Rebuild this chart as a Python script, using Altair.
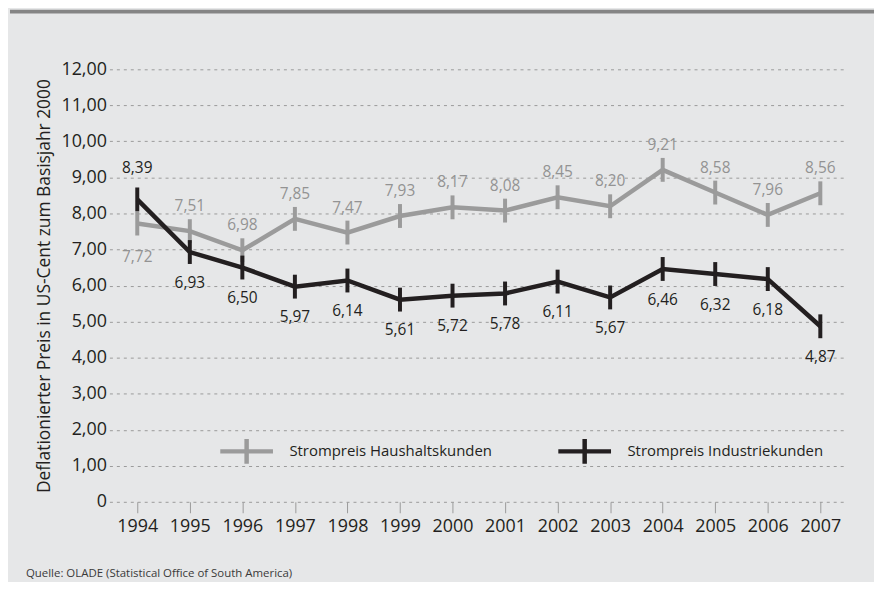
import altair as alt
import pandas as pd

jahre = list(range(1994, 2008))
haushalt = [7.72, 7.51, 6.98, 7.85, 7.47, 7.93, 8.17, 8.08, 8.45, 8.20, 9.21, 8.58, 7.96, 8.56]
industrie = [8.39, 6.93, 6.50, 5.97, 6.14, 5.61, 5.72, 5.78, 6.11, 5.67, 6.46, 6.32, 6.18, 4.87]
haushalt_lage = ["unten"] + ["oben"] * 13
industrie_lage = ["oben"] + ["unten"] * 13
reihen = ["Strompreis Haushaltskunden", "Strompreis Industriekunden"]
farben = ["#9b9b9b", "#231f20"]
label_farben = ["#939393", "#231f20"]
y_ticks = list(range(0, 13))
y_titel = "Deflationierter Preis in US-Cent zum Basisjahr 2000"
quelle = "Quelle: OLADE (Statistical Office of South America)"

FONT = "Open Sans"

rows = []
for j, v, l in zip(jahre, haushalt, haushalt_lage):
    rows.append({"Jahr": j, "Wert": v, "Reihe": reihen[0], "Lage": l})
for j, v, l in zip(jahre, industrie, industrie_lage):
    rows.append({"Jahr": j, "Wert": v, "Reihe": reihen[1], "Lage": l})
df = pd.DataFrame(rows)

x_enc = alt.X(
    "Jahr:Q",
    scale=alt.Scale(domain=[1993.47, 2007.454], nice=False, zero=False),
    axis=alt.Axis(
        values=jahre, format="d", title=None, grid=False, domain=False,
        tickSize=11, tickColor="#9a9a9a", tickWidth=1,
        labelFont=FONT, labelFontSize=18, labelColor="#231f20", labelPadding=5,
    ),
)
y_enc = alt.Y(
    "Wert:Q",
    scale=alt.Scale(domain=[0, 12], nice=False),
    axis=alt.Axis(
        values=y_ticks, title=y_titel, grid=True, gridDash=[3, 4], gridColor="#9a9a9a",
        gridWidth=1, ticks=False, domain=False,
        labelExpr="datum.value == 0 ? '0' : replace(format(datum.value, '.2f'), '.', ',')",
        labelFont=FONT, labelFontSize=18, labelColor="#231f20", labelPadding=3,
        titleFont=FONT, titleFontSize=17.5, titleFontWeight="normal", titleColor="#231f20",
        titlePadding=7,
    ),
)

legend = alt.Legend(
    orient="none", legendX=109, legendY=355, direction="horizontal", columns=2,
    columnPadding=57, title=None, padding=0,
    symbolType="M-1,0H1M0,-0.47V0.47", symbolSize=2809, symbolStrokeWidth=4.5,
    symbolFillColor="transparent", symbolOpacity=1,
    labelFont=FONT, labelFontSize=15, labelColor="#231f20", labelOffset=14, labelLimit=400,
)
color_enc = alt.Color("Reihe:N", scale=alt.Scale(domain=reihen, range=farben), legend=legend)

base = alt.Chart(df)
layers = []
for i, r in enumerate(reihen):
    sub = base.transform_filter(alt.datum.Reihe == r)
    layers.append(sub.mark_line(strokeWidth=4.5, opacity=1).encode(x=x_enc, y=y_enc, color=color_enc))
    layers.append(sub.mark_tick(orient="vertical", size=24, thickness=4, opacity=1).encode(x=x_enc, y=y_enc, color=color_enc))

offsets = {
    (reihen[0], "oben"): -25, (reihen[0], "unten"): 34,
    (reihen[1], "oben"): -32, (reihen[1], "unten"): 31,
}
for i, r in enumerate(reihen):
    for lage in ["oben", "unten"]:
        layers.append(
            base.transform_filter((alt.datum.Reihe == r) & (alt.datum.Lage == lage))
            .transform_calculate(Label="replace(format(datum.Wert, '.2f'), '.', ',')")
            .mark_text(font=FONT, fontSize=15.5, color=label_farben[i], dy=offsets[(r, lage)], baseline="middle")
            .encode(x=x_enc, y=y_enc, text="Label:N")
        )

one = alt.Data(values=[{"a": 1}])
topbar = alt.Chart(one).mark_rect(color="#858585").encode(
    x=alt.value(-100), x2=alt.value(769), y=alt.value(-60), y2=alt.value(-56)
)
source = alt.Chart(one).mark_text(
    font=FONT, fontSize=11.5, color="#3a3a3a", align="left", baseline="middle"
).encode(x=alt.value(-84), y=alt.value(508), text=alt.value(quelle))

chart = alt.layer(*layers, topbar, source).properties(
    width=739, height=435,
    autosize=alt.AutoSizeParams(type="none"),
    padding={"left": 102, "top": 60, "right": 30, "bottom": 79},
    background="#e6e7e8",
).configure_view(stroke=None)

chart.save("out.html", embed_options={"renderer": "svg", "actions": False})
